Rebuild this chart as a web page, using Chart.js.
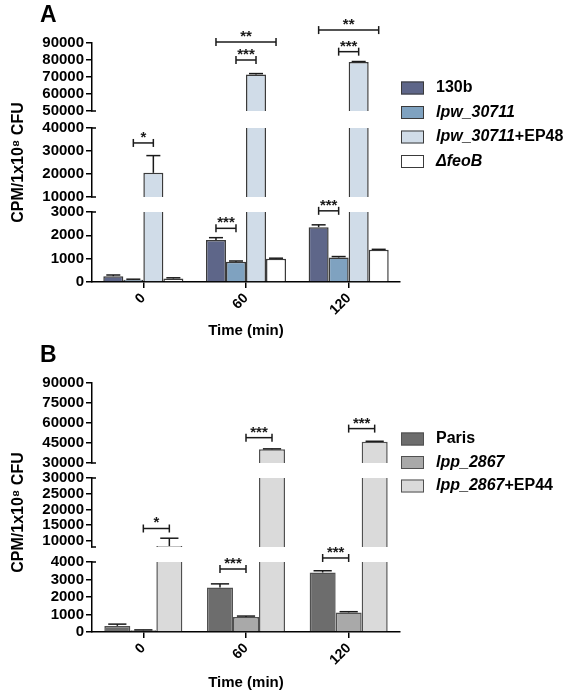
<!DOCTYPE html>
<html>
<head>
<meta charset="utf-8">
<script src="https://cdn.jsdelivr.net/npm/chart.js@4.4.1/dist/chart.umd.min.js"></script>
<style>
body { margin: 0; background: #fff; }
.panel { position: absolute; left: 0; width: 570px; }
#wrapA { top: 0; height: 340px; }
#wrapB { top: 340px; height: 355px; }
</style>
</head>
<body>
<div id="wrapA" class="panel"><canvas id="chartA" width="570" height="340"></canvas></div>
<div id="wrapB" class="panel"><canvas id="chartB" width="570" height="355"></canvas></div>
<script>
var timeLabels = ['0', '60', '120'];

// panel A
var seriesA = ['130b', 'lpw_30711', 'lpw_30711+EP48', '\u0394feoB'];
var italicA = ['', 'lpw_30711', 'lpw_30711', '\u0394feoB'];
var mean130b = [250, 1800, 2350];
var meanLpw = [100, 870, 1050];
var meanLpwEP48 = [20500, 71500, 78800];
var meanFeoB = [150, 1000, 1380];
var err130b = [50, 100, 100];
var errLpw = [20, 30, 40];
var errLpwEP48 = [7500, 500, 300];
var errFeoB = [30, 20, 20];
var rangesA = [[50000, 90000], [10000, 40000], [0, 3000]];
var ticksA = [[50000, 60000, 70000, 80000, 90000], [10000, 20000, 30000, 40000], [0, 1000, 2000, 3000]];
// [category, from series, to series, axis segment, value, stars]
var sigA = [
    [0, 1, 2, 1, 33500, '*'],
    [1, 0, 1, 2, 2300, '***'],
    [1, 1, 2, 0, 80000, '***'],
    [1, 0, 3, 0, 90600, '**'],
    [2, 0, 1, 2, 3050, '***'],
    [2, 1, 2, 0, 84900, '***'],
    [2, 0, 3, 0, 97600, '**']
];

// panel B
var seriesB = ['Paris', 'lpp_2867', 'lpp_2867+EP44'];
var italicB = ['', 'lpp_2867', 'lpp_2867'];
var meanParis = [350, 2550, 3400];
var meanLpp = [100, 860, 1120];
var meanLppEP44 = [8300, 40300, 46000];
var errParis = [100, 200, 100];
var errLpp = [20, 50, 40];
var errLppEP44 = [2500, 300, 300];
var rangesB = [[30000, 90000], [8000, 30000], [0, 4000]];
var ticksB = [[30000, 45000, 60000, 75000, 90000], [10000, 15000, 20000, 25000, 30000], [0, 1000, 2000, 3000, 4000]];
var sigB = [
    [0, 1, 2, 1, 13900, '*'],
    [1, 0, 1, 2, 3600, '***'],
    [1, 1, 2, 0, 49000, '***'],
    [2, 0, 1, 2, 4230, '***'],
    [2, 1, 2, 0, 55800, '***']
];

var FONT = "'Liberation Sans', Arial, Helvetica, sans-serif";
Chart.defaults.font.family = FONT;
Chart.defaults.color = '#000';

var panelA = {
    canvas: 'chartA', letter: 'A',
    series: seriesA, italic: italicA,
    means: [mean130b, meanLpw, meanLpwEP48, meanFeoB],
    errs: [err130b, errLpw, errLpwEP48, errFeoB],
    colors: ['#5e6689', '#7fa2c0', '#d0dce8', '#ffffff'],
    border: '#3a3a3a',
    ranges: rangesA, ticks: ticksA,
    segPx: [68, 69, 70], gapPx: [17, 15],
    xHeight: 58, xTitlePad: 0,
    catPct: 0.78,
    legendTop: 88, legendStep: 24.5,
    sig: sigA
};

var panelB = {
    canvas: 'chartB', letter: 'B',
    series: seriesB, italic: italicB,
    means: [meanParis, meanLpp, meanLppEP44],
    errs: [errParis, errLpp, errLppEP44],
    colors: ['#6d6d6d', '#a9a9a9', '#dadada'],
    border: '#505050',
    ranges: rangesB, ticks: ticksB,
    segPx: [80, 69, 70], gapPx: [15, 15],
    xHeight: 63, xTitlePad: 3,
    catPct: 0.76,
    legendTop: 99, legendStep: 23.5,
    sig: sigB
};

function segOf(p, v) {
    for (var g = 0; g < p.ranges.length; g++) {
        if (v > p.ranges[g][0]) return g;
    }
    return p.ranges.length - 1;
}

function line(ctx, x1, y1, x2, y2) {
    ctx.beginPath();
    ctx.moveTo(x1, y1);
    ctx.lineTo(x2, y2);
    ctx.stroke();
}

function overlayPlugin(p) {
    var nSeg = p.ranges.length;
    return {
        id: 'overlay',
        afterDatasetsDraw: function(chart) {
            var ctx = chart.ctx;
            ctx.save();
            ctx.strokeStyle = '#1a1a1a';
            ctx.lineWidth = 1.5;
            // error bars (upper half only)
            p.means.forEach(function(vals, s) {
                vals.forEach(function(v, i) {
                    var g = segOf(p, v);
                    var bar = chart.getDatasetMeta(s * nSeg + g).data[i];
                    var sc = chart.scales['y' + g];
                    var y0 = sc.getPixelForValue(v);
                    var y1 = sc.getPixelForValue(v + p.errs[s][i]);
                    var half = bar.width * 0.35;
                    line(ctx, bar.x, y0, bar.x, y1);
                    line(ctx, bar.x - half, y1, bar.x + half, y1);
                });
            });
            // significance brackets
            ctx.fillStyle = '#1a1a1a';
            ctx.font = 'bold 15px ' + FONT;
            ctx.textAlign = 'center';
            ctx.textBaseline = 'alphabetic';
            p.sig.forEach(function(b) {
                var x1 = chart.getDatasetMeta(b[1] * nSeg + nSeg - 1).data[b[0]].x;
                var x2 = chart.getDatasetMeta(b[2] * nSeg + nSeg - 1).data[b[0]].x;
                var y = chart.scales['y' + b[3]].getPixelForValue(b[4]);
                line(ctx, x1, y, x2, y);
                line(ctx, x1, y - 4, x1, y + 4);
                line(ctx, x2, y - 4, x2, y + 4);
                ctx.fillText(b[5], (x1 + x2) / 2, y - 1);
            });
            ctx.restore();
        },
        afterDraw: function(chart) {
            var ctx = chart.ctx;
            var area = chart.chartArea;
            ctx.save();
            // break stubs on the y axis
            ctx.strokeStyle = '#000';
            ctx.lineWidth = 1.5;
            var ax = chart.scales.y0.right;
            for (var g = 0; g < nSeg; g++) {
                var sc = chart.scales['y' + g];
                if (g > 0) line(ctx, ax - 1, sc.top, ax + 4, sc.top);
                if (g < nSeg - 1) line(ctx, ax - 1, sc.bottom, ax + 4, sc.bottom);
            }
            // legend
            var lx = area.right + 1;
            ctx.textAlign = 'left';
            ctx.textBaseline = 'middle';
            p.series.forEach(function(name, s) {
                var cy = p.legendTop + s * p.legendStep;
                ctx.fillStyle = p.colors[s];
                ctx.fillRect(lx, cy - 6.5, 23, 13);
                ctx.strokeStyle = p.border;
                ctx.lineWidth = 1;
                ctx.strokeRect(lx + 0.5, cy - 6, 22, 12);
                var it = p.italic[s];
                var rest = name.slice(it.length);
                var tx = lx + 35;
                ctx.fillStyle = '#000';
                if (it) {
                    ctx.font = 'italic bold 16px ' + FONT;
                    ctx.fillText(it, tx, cy);
                    tx += ctx.measureText(it).width;
                }
                ctx.font = 'bold 16px ' + FONT;
                ctx.fillText(rest, tx, cy);
            });
            // panel letter
            ctx.font = 'bold 23px ' + FONT;
            ctx.textBaseline = 'alphabetic';
            ctx.fillText(p.letter, 40, 22);
            ctx.restore();
        }
    };
}

function buildChart(p) {
    var datasets = [];
    p.means.forEach(function(vals, s) {
        p.ranges.forEach(function(r, g) {
            datasets.push({
                label: p.series[s],
                yAxisID: 'y' + g,
                stack: 's' + s,
                data: vals.map(function(v) {
                    return v > r[0] ? [r[0], Math.min(v, r[1])] : null;
                }),
                backgroundColor: p.colors[s],
                borderColor: p.border,
                borderSkipped: false,
                borderWidth: function(ctx) {
                    var v = vals[ctx.dataIndex];
                    return {top: v > r[1] ? 0 : 1.5, left: 1.5, right: 1.5, bottom: 0};
                },
                barPercentage: 1,
                categoryPercentage: p.catPct
            });
        });
    });

    var axisFont = {size: 15, weight: 'bold'};
    var scales = {
        x: {
            type: 'category',
            offset: true,
            grid: {display: true, offset: false, drawOnChartArea: false, drawTicks: true, tickLength: 6, color: '#000', lineWidth: 1.5},
            border: {display: true, color: '#000', width: 1.5},
            ticks: {color: '#000', font: {size: 14, weight: 'bold'}, minRotation: 45, maxRotation: 45, padding: 2},
            title: {display: true, text: 'Time (min)', color: '#000', font: {size: 15, weight: 'bold'}, padding: {top: 0, bottom: p.xTitlePad}},
            afterFit: function(scale) { scale.height = p.xHeight; }
        }
    };
    var w = 20;
    p.ranges.forEach(function(r, g) {
        var tickVals = p.ticks[g];
        scales['y' + g] = {
            type: 'linear',
            axis: 'y',
            position: 'left',
            stack: 'left',
            stackWeight: p.segPx[g],
            weight: w--,
            stacked: false,
            min: r[0],
            max: r[1],
            afterBuildTicks: function(scale) {
                scale.ticks = tickVals.map(function(v) { return {value: v}; });
            },
            afterFit: function(scale) { scale.width = 92; },
            grid: {display: true, drawOnChartArea: false, drawTicks: true, tickLength: 6, color: '#000', lineWidth: 1.5},
            border: {display: true, color: '#000', width: 1.5},
            ticks: {
                color: '#000', font: axisFont, padding: 2, autoSkip: false,
                callback: function(value) { return String(value); }
            },
            title: {
                display: g === 1,
                text: 'CPM/1x10\u2078 CFU',
                color: '#000',
                font: {size: 16, weight: 'bold'},
                padding: {top: 9, bottom: 0}
            }
        };
        if (g < p.gapPx.length) {
            scales['yGap' + g] = {
                type: 'linear',
                axis: 'y',
                position: 'left',
                stack: 'left',
                stackWeight: p.gapPx[g],
                weight: w--,
                grid: {display: false},
                border: {display: false},
                ticks: {display: false},
                afterFit: function(scale) { scale.width = 92; }
            };
        }
    });

    return new Chart(document.getElementById(p.canvas), {
        type: 'bar',
        data: {labels: timeLabels, datasets: datasets},
        options: {
            responsive: false,
            animation: false,
            devicePixelRatio: 1,
            layout: {padding: {top: 43, right: 170, bottom: 0, left: 0}},
            plugins: {legend: {display: false}, tooltip: {enabled: false}},
            scales: scales
        },
        plugins: [overlayPlugin(p)]
    });
}

buildChart(panelA);
buildChart(panelB);
</script>
</body>
</html>
